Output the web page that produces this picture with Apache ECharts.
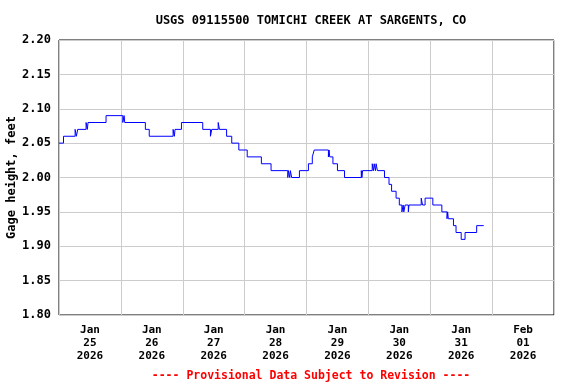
<!DOCTYPE html>
<html>
<head>
<meta charset="utf-8">
<script src="https://cdn.jsdelivr.net/npm/echarts@6/dist/echarts.min.js"></script>
<style>
html,body{margin:0;padding:0;background:#fff;}
#chart{width:576px;height:384px;}
</style>
</head>
<body>
<div id="chart"></div>
<script>
const titleText = "USGS 09115500 TOMICHI CREEK AT SARGENTS, CO";
const footerText = "---- Provisional Data Subject to Revision ----";
const yAxisName = "Gage height, feet";
const yTicks = [1.80, 1.85, 1.90, 1.95, 2.00, 2.05, 2.10, 2.15, 2.20];
const labelDays = ["2026-01-25","2026-01-26","2026-01-27","2026-01-28","2026-01-29","2026-01-30","2026-01-31","2026-02-01"];
const monthNames = ["Jan","Feb","Mar","Apr","May","Jun","Jul","Aug","Sep","Oct","Nov","Dec"];

// change points of the step line (value holds until next time)
const times = [
"01-25 00:00","01-25 01:45","01-25 06:15","01-25 06:45","01-25 07:15","01-25 10:30","01-25 11:00","01-25 11:15",
"01-25 18:15","01-26 00:45","01-26 01:15","01-26 01:30","01-26 09:30","01-26 11:00","01-26 20:15","01-26 20:45",
"01-26 21:00","01-26 23:30","01-27 07:45","01-27 10:45","01-27 11:15","01-27 13:45","01-27 14:15","01-27 17:00",
"01-27 19:00","01-27 21:45","01-28 01:00","01-28 06:30","01-28 10:15","01-28 16:45","01-28 17:00","01-28 17:30",
"01-28 17:45","01-28 18:15","01-28 21:15","01-29 00:45","01-29 02:15","01-29 03:00","01-29 08:30","01-29 08:45",
"01-29 09:00","01-29 10:15","01-29 12:00","01-29 14:45","01-29 21:15","01-29 21:30","01-29 21:45","01-30 01:30",
"01-30 02:00","01-30 02:15","01-30 02:45","01-30 03:00","01-30 03:30","01-30 06:15","01-30 08:00","01-30 09:00",
"01-30 10:45","01-30 12:00","01-30 13:00","01-30 13:30","01-30 13:45","01-30 14:15","01-30 15:30","01-30 15:45",
"01-30 20:30","01-30 21:00","01-30 22:00","01-31 01:00","01-31 04:30","01-31 06:30","01-31 06:45","01-31 07:00",
"01-31 09:00","01-31 10:00","01-31 12:00","01-31 13:30","01-31 18:00","01-31 20:45"
];
const values = [
2.05,2.06,2.07,2.06,2.07,2.08,2.07,2.08,
2.09,2.08,2.09,2.08,2.07,2.06,2.07,2.06,
2.07,2.08,2.07,2.06,2.07,2.08,2.07,2.06,
2.05,2.04,2.03,2.02,2.01,2.00,2.01,2.00,
2.01,2.00,2.01,2.02,2.03,2.04,2.03,2.04,
2.03,2.02,2.01,2.00,2.01,2.00,2.01,2.02,
2.01,2.02,2.01,2.02,2.01,2.00,1.99,1.98,
1.97,1.96,1.95,1.96,1.95,1.96,1.95,1.96,
1.97,1.96,1.97,1.96,1.95,1.94,1.95,1.94,
1.93,1.92,1.91,1.92,1.93,1.93
];

function toMs(s){
  const parts = s.split(' ');
  const d = parts[0].split('-'), t = parts[1].split(':');
  return Date.UTC(2026, +d[0]-1, +d[1], +t[0], +t[1]);
}
function dayNoon(s){
  const d = s.split('-');
  return Date.UTC(+d[0], +d[1]-1, +d[2], 12, 0);
}
const DAY = 86400000;
const xMin = Date.UTC(2026,0,25);
const xMax = Date.UTC(2026,1,2);
const font = '"DejaVu Sans Mono", monospace';

const chart = echarts.init(document.getElementById('chart'), null, {renderer:'canvas'});
chart.setOption({
  animation:false,
  backgroundColor:'#fff',
  title:[
    {text:titleText, left:306, top:10, textAlign:'center',
     textStyle:{fontFamily:font, fontSize:12, fontWeight:'bold', color:'#000'}},
    {text:footerText, left:306, top:365, textAlign:'center',
     textStyle:{fontFamily:font, fontSize:11.5, fontWeight:'bold', color:'#ff0000'}}
  ],
  grid:{left:59, right:22, top:40, bottom:69, containLabel:false, outerBoundsMode:'none',
        show:true, borderColor:'#000', borderWidth:1, backgroundColor:'#fff'},
  xAxis:{
    type:'value', min:xMin, max:xMax, interval:DAY,
    axisLine:{show:false}, axisTick:{show:false},
    splitLine:{show:true, lineStyle:{color:'#cccccc', width:1}},
    axisLabel:{
      customValues: labelDays.map(dayNoon),
      margin:9, lineHeight:13,
      fontFamily:font, fontSize:11, fontWeight:'bold', color:'#000',
      formatter:function(v){
        const d = new Date(v);
        const dd = String(d.getUTCDate()).padStart(2,'0');
        return monthNames[d.getUTCMonth()] + '\n' + dd + '\n' + d.getUTCFullYear();
      }
    }
  },
  yAxis:{
    type:'value', min:yTicks[0], max:yTicks[yTicks.length-1], interval:0.05,
    name:yAxisName, nameLocation:'middle', nameGap:41, nameRotate:90, nameMoveOverlap:false,
    nameTextStyle:{fontFamily:font, fontSize:12, fontWeight:'bold', color:'#000'},
    axisLine:{show:false}, axisTick:{show:false},
    splitLine:{show:true, lineStyle:{color:'#cccccc', width:1}},
    axisLabel:{margin:8, fontFamily:font, fontSize:12, fontWeight:'bold', color:'#000',
      formatter:function(v){return v.toFixed(2);}}
  },
  series:[{
    type:'line', step:'end', showSymbol:false, symbol:'none',
    lineStyle:{color:'#0000ff', width:1},
    data: times.map(function(t,i){return [toMs(t), values[i]];})
  }]
});
</script>
</body>
</html>
